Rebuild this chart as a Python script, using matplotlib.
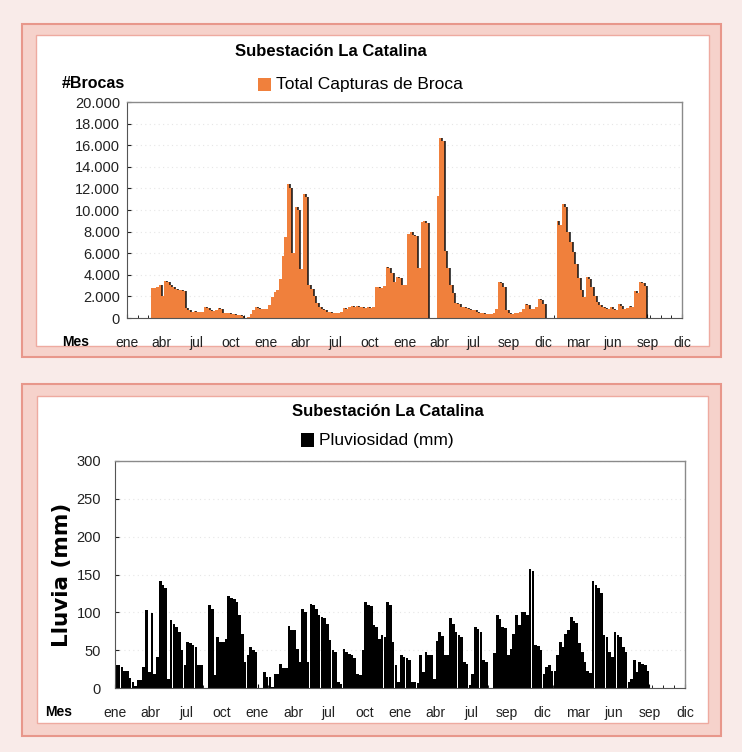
import matplotlib
matplotlib.use("Agg")
import matplotlib.pyplot as plt
from matplotlib.patches import Rectangle
from matplotlib.ticker import FuncFormatter, MultipleLocator
import numpy as np

plt.rcParams['font.family'] = ['Liberation Sans Narrow', 'Liberation Sans', 'DejaVu Sans']

# ---- data: weekly values, 13 weeks per labelled interval ----
month_labels = ["ene", "abr", "jul", "oct", "ene", "abr", "jul", "oct", "ene",
                "abr", "jul", "sep", "dic", "mar", "jun", "sep", "dic"]
weeks_per_label = 13

capturas = [
    0, 0, 0, 0, 0, 0, 0, 0, 0, 2800, 2800, 2900, 3100,
    2000, 3400, 3300, 3100, 2900, 2700, 2600, 2600, 2500, 900, 700, 600, 650,
    600, 550, 600, 1000, 900, 700, 650, 700, 900, 800, 500, 500, 450,
    400, 350, 300, 300, 150, 0, 100, 400, 700, 1000, 900, 800, 800,
    800, 1200, 1900, 2400, 2600, 3600, 5700, 7500, 12400, 12000, 6000, 10300, 10000,
    4500, 11500, 11200, 3100, 2700, 2000, 1400, 1000, 800, 700, 600, 600, 500,
    500, 500, 600, 900, 800, 1000, 1100, 1000, 1100, 1000, 1000, 900, 1000,
    900, 1000, 2900, 2900, 2800, 3000, 4700, 4600, 4200, 3300, 3800, 3700, 3100,
    3100, 7800, 8000, 7700, 7600, 4600, 8900, 9000, 8800, 0, 0, 0, 11300,
    16700, 16400, 6200, 4600, 3100, 2300, 1400, 1300, 1000, 1000, 900, 800, 700,
    700, 600, 500, 500, 400, 400, 400, 500, 800, 3300, 3200, 2900, 700,
    500, 400, 500, 500, 600, 800, 1300, 1200, 800, 800, 1000, 1800, 1700,
    1300, 0, 0, 0, 0, 9000, 8600, 10600, 10300, 8000, 7000, 6100, 5000,
    3700, 2600, 1900, 3800, 3600, 2900, 2000, 1500, 1200, 1000, 900, 800, 1000,
    800, 700, 1300, 1100, 800, 900, 1100, 1000, 2500, 2300, 3300, 3200, 3000,
    0, 0, 0, 0, 0, 0, 0, 0, 0, 0, 0, 0, 0,
]

lluvia = [
    30, 30, 28, 23, 23, 13, 8, 3, 10, 10, 28, 103, 21,
    99, 19, 41, 141, 136, 132, 12, 90, 85, 81, 74, 50, 30,
    61, 59, 57, 54, 30, 30, 0, 0, 110, 105, 17, 68, 61,
    61, 65, 121, 119, 117, 114, 96, 72, 35, 43, 54, 50, 48,
    0, 0, 21, 15, 15, 1, 19, 19, 32, 26, 26, 82, 77,
    77, 52, 35, 105, 101, 35, 111, 110, 105, 96, 94, 92, 85,
    63, 50, 48, 8, 5, 52, 48, 45, 43, 39, 19, 17, 50,
    114, 110, 108, 83, 81, 65, 70, 68, 114, 110, 61, 30, 8,
    43, 41, 39, 37, 8, 8, 6, 43, 21, 48, 44, 44, 12,
    62, 74, 69, 43, 43, 92, 85, 74, 70, 68, 35, 32, 4,
    19, 81, 78, 74, 37, 35, 0, 0, 46, 96, 91, 81, 79,
    43, 52, 72, 96, 83, 101, 101, 97, 157, 154, 57, 55, 50,
    19, 28, 30, 23, 23, 43, 61, 54, 72, 77, 94, 88, 86,
    59, 48, 35, 23, 20, 141, 136, 132, 125, 70, 68, 48, 41,
    74, 70, 68, 54, 48, 8, 12, 37, 21, 35, 32, 30, 23,
    0, 0, 0, 0, 0, 0, 0, 0, 0, 0, 0, 0, 0,
]

titulo = "Subestación La Catalina"
serie_capturas = "Total Capturas de Broca"
serie_lluvia = "Pluviosidad (mm)"

ORANGE = "#f0803c"
W, H = 742, 752

fig = plt.figure(figsize=(W / 100, H / 100), dpi=100)
fig.patch.set_facecolor("#f9ebe9")


def fx(px):
    return px / W


def fy(py):
    return 1 - py / H


def panel(x0, y0, x1, y1, ix0, iy0, ix1, iy1):
    fig.patches.append(Rectangle((fx(x0), fy(y1)), fx(x1) - fx(x0), fy(y0) - fy(y1),
                                 transform=fig.transFigure, facecolor="#f6d2cb",
                                 edgecolor="#e8978b", lw=1.5, zorder=-10))
    fig.patches.append(Rectangle((fx(ix0), fy(iy1)), fx(ix1) - fx(ix0), fy(iy0) - fy(iy1),
                                 transform=fig.transFigure, facecolor="white",
                                 edgecolor="#eeaaa0", lw=1.0, zorder=-9))


panel(22, 24, 721, 357, 36, 35, 709, 346)
panel(22, 384, 721, 736, 37, 396, 708, 723)

n = len(capturas)
x = np.arange(n) + 0.5
tick_pos = np.arange(0, n + 1, weeks_per_label)


def style_axes(ax, ypad):
    ax.set_facecolor("white")
    for side in ("top", "right"):
        ax.spines[side].set_color("#8a8a8a")
        ax.spines[side].set_linewidth(1.0)
    ax.spines["left"].set_color("#555555")
    ax.spines["bottom"].set_color("#555555")
    ax.set_xlim(0, n)
    ax.set_xticks(tick_pos)
    ax.set_xticklabels(month_labels, fontsize=10, color="#222222")
    ax.xaxis.set_minor_locator(MultipleLocator(4))
    ax.tick_params(axis="x", which="major", length=3, direction="in", pad=13)
    ax.tick_params(axis="x", which="minor", length=2, direction="in")
    ax.tick_params(axis="y", length=3, direction="in", labelsize=10.5, pad=ypad, colors="#222222")
    ax.set_axisbelow(True)
    ax.grid(axis="y", color="#e6e6e6", lw=0.8, ls=(0, (1, 3)))


# ---- top: captures ----
ax1 = fig.add_axes([fx(127), fy(318), fx(682) - fx(127), fy(102) - fy(318)])
ax1.bar(x, capturas, width=1.0, color=ORANGE, linewidth=0, zorder=2)
cap = np.array(capturas)
nxt = np.append(cap[1:], 0)
drop = cap > nxt
ax1.vlines(x[drop] + 0.5, nxt[drop], cap[drop], color="#111111", lw=1.1, zorder=3)
ax1.set_ylim(0, 20000)
ax1.yaxis.set_major_locator(MultipleLocator(2000))
ax1.yaxis.set_major_formatter(FuncFormatter(lambda v, p: f"{int(v):,}".replace(",", ".")))
style_axes(ax1, 5)

fig.text(fx(331), fy(52), titulo, ha="center", va="center", fontsize=12, fontweight="bold")
fig.patches.append(Rectangle((fx(258), fy(91)), fx(13), 13 / H, transform=fig.transFigure,
                             facecolor=ORANGE, edgecolor="none"))
fig.text(fx(276), fy(84), serie_capturas, ha="left", va="center", fontsize=12.5)
fig.text(fx(62), fy(83), "#Brocas", ha="left", va="center", fontsize=11.5, fontweight="bold")
fig.text(fx(62), fy(342), "Mes", ha="left", va="center", fontsize=10, fontweight="bold")

# ---- bottom: rainfall ----
ax2 = fig.add_axes([fx(115), fy(688), fx(685) - fx(115), fy(461) - fy(688)])
ax2.bar(x, lluvia, width=0.95, color="black", linewidth=0, zorder=2)
ax2.set_ylim(0, 300)
ax2.yaxis.set_major_locator(MultipleLocator(50))
style_axes(ax2, 10)
ax2.set_ylabel("Lluvia (mm)", family="DejaVu Sans", fontweight="bold", fontsize=15.5,
               va="center")
ax2.yaxis.set_label_coords(fx(62 - 115) / fx(570), 0.5)

fig.text(fx(388), fy(412), titulo, ha="center", va="center", fontsize=12, fontweight="bold")
fig.patches.append(Rectangle((fx(301), fy(447)), fx(13), 14 / H, transform=fig.transFigure,
                             facecolor="black", edgecolor="none"))
fig.text(fx(319), fy(440), serie_lluvia, ha="left", va="center", fontsize=12.5)
fig.text(fx(45), fy(712), "Mes", ha="left", va="center", fontsize=10, fontweight="bold")

fig.savefig("out.png", dpi=100, facecolor=fig.get_facecolor())
